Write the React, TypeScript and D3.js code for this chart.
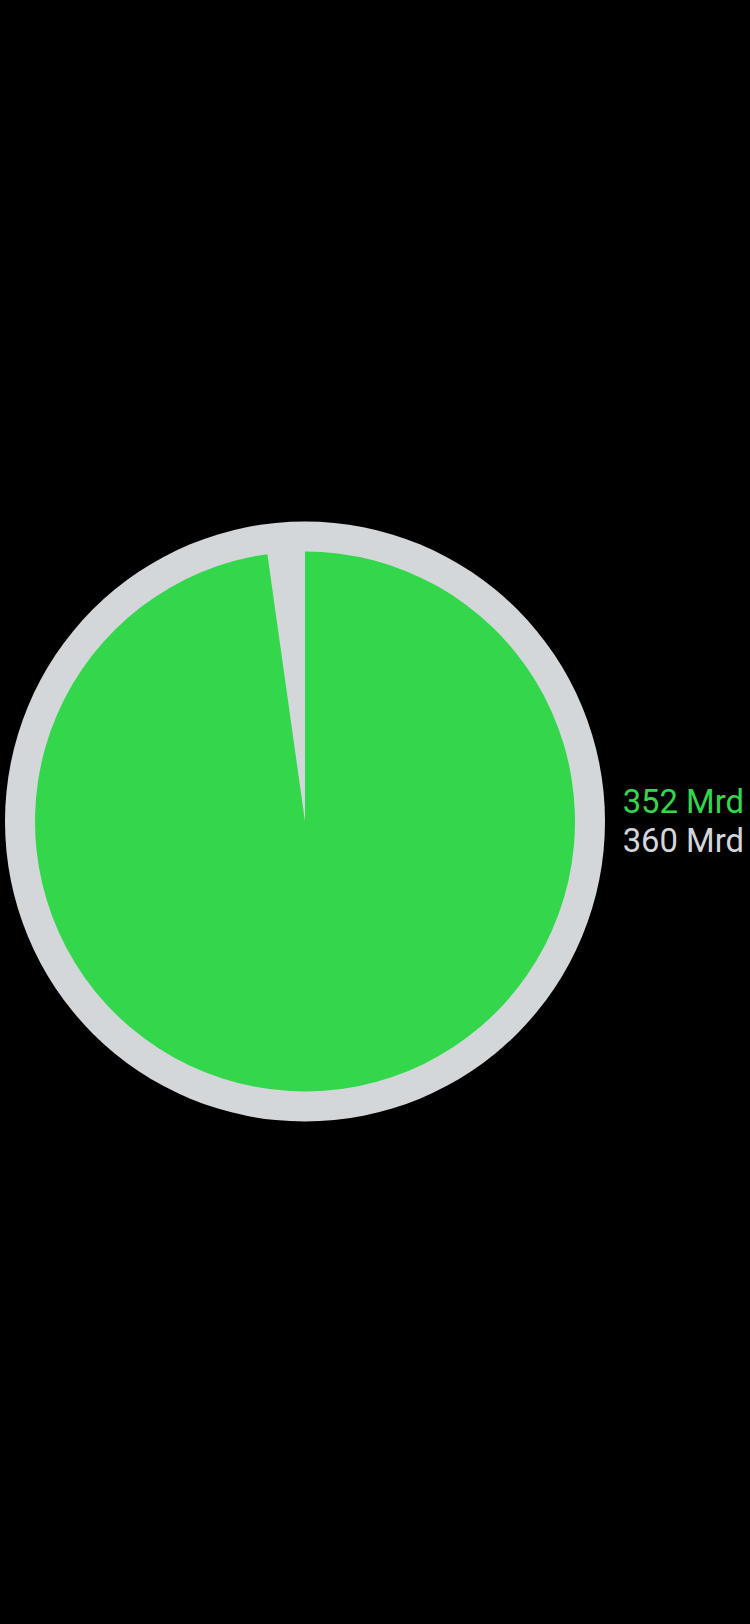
import * as React from 'react'
import { useEffect, useRef } from 'react'
import * as d3 from 'd3'

// values in Mrd
const labels = ['352 Mrd', '360 Mrd']
const spent = 352
const total = 360
const seriesColors = ['#34d74c', '#d3d7da']

const W = 750
const H = 1624

export default function App() {
  const svgRef = useRef<SVGSVGElement | null>(null)

  useEffect(() => {
    document.body.style.margin = '0'
    document.body.style.background = '#000'

    const svg = d3.select(svgRef.current!)
    svg.selectAll('*').remove()

    const cx = 305
    const cy = 821.5
    const outerR = 300
    const innerR = 270

    svg.append('rect').attr('width', W).attr('height', H).attr('fill', '#000')

    const g = svg.append('g').attr('transform', `translate(${cx},${cy})`)

    // background ring (full amount)
    g.append('circle').attr('r', outerR).attr('fill', seriesColors[1])

    const angle = d3.scaleLinear().domain([0, total]).range([0, 2 * Math.PI])
    const arc = d3.arc<any>().innerRadius(0).outerRadius(innerR)

    g.append('path')
      .attr('d', arc({ startAngle: angle(0), endAngle: angle(spent) }))
      .attr('fill', seriesColors[0])

    const text = svg.append('g')
      .attr('font-family', 'Roboto, sans-serif')
      .attr('font-size', 32.8)
      .attr('text-anchor', 'end')

    labels.forEach((t, i) => {
      text.append('text')
        .attr('x', 744)
        .attr('y', 813 + i * 39)
        .attr('fill', seriesColors[i])
        .text(t)
    })
  }, [])

  return (
    <svg
      ref={svgRef}
      width={W}
      height={H}
      style={{ position: 'absolute', left: 0, top: 0, display: 'block' }}
    />
  )
}
